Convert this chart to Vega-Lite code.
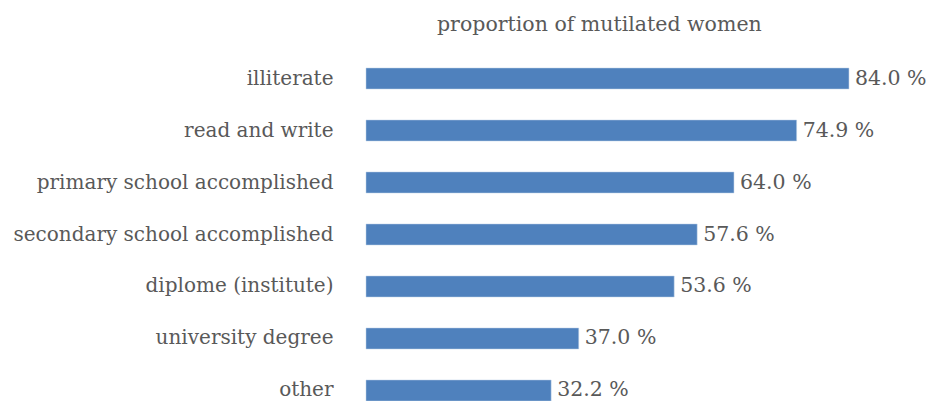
{
  "$schema": "https://vega.github.io/schema/vega-lite/v6.json",
  "width": 560,
  "height": 333,
  "autosize": "none",
  "padding": {"left": 366, "top": 68, "right": 3, "bottom": 0},
  "background": "white",
  "title": {
    "text": "proportion of mutilated women",
    "anchor": "start",
    "frame": "group",
    "dx": 71,
    "offset": 32,
    "font": "DejaVu Serif",
    "fontSize": 20.5,
    "fontWeight": "normal",
    "color": "#595959"
  },
  "data": {
    "values": [
      {"level": "illiterate", "pct": 84.0},
      {"level": "read and write", "pct": 74.9},
      {"level": "primary school accomplished", "pct": 64.0},
      {"level": "secondary school accomplished", "pct": 57.6},
      {"level": "diplome (institute)", "pct": 53.6},
      {"level": "university degree", "pct": 37.0},
      {"level": "other", "pct": 32.2}
    ]
  },
  "transform": [
    {"calculate": "format(datum.pct, '.1f') + ' %'", "as": "label"}
  ],
  "encoding": {
    "y": {
      "field": "level",
      "type": "nominal",
      "sort": null,
      "scale": {"paddingInner": 0.596, "paddingOuter": 0, "align": 0},
      "axis": {
        "title": null,
        "domain": false,
        "ticks": false,
        "labelPadding": 33,
        "labelFont": "DejaVu Serif",
        "labelFontSize": 20,
        "labelColor": "#595959",
        "labelLimit": 400
      }
    },
    "x": {
      "field": "pct",
      "type": "quantitative",
      "scale": {"domain": [0, 97.4]},
      "axis": null
    }
  },
  "layer": [
    {"mark": {"type": "bar", "color": "#4F81BD", "stroke": "#BFD0E6", "strokeWidth": 0.5}},
    {
      "mark": {
        "type": "text",
        "align": "left",
        "baseline": "middle",
        "dx": 6,
        "font": "DejaVu Serif",
        "fontSize": 20.5,
        "color": "#595959"
      },
      "encoding": {
        "text": {"field": "label", "type": "nominal"}
      }
    }
  ],
  "config": {"view": {"stroke": null}}
}
